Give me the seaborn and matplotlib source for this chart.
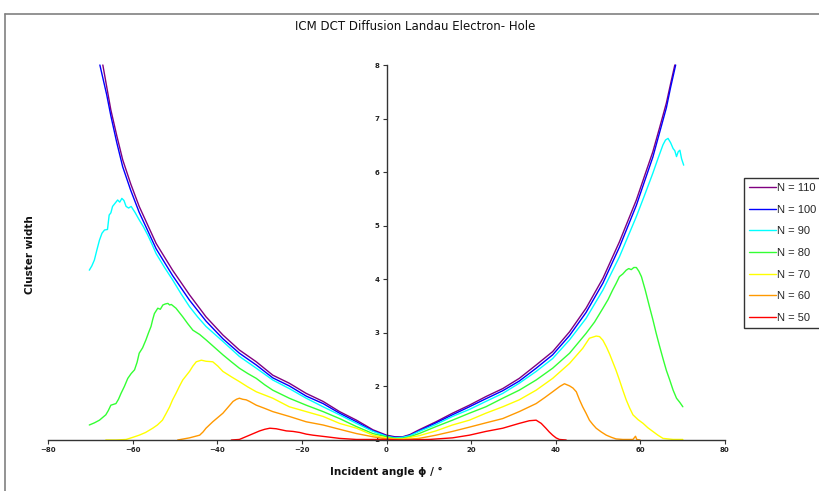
import numpy as np
import pandas as pd
import matplotlib
matplotlib.use("Agg")
import matplotlib.pyplot as plt
import seaborn as sns
from matplotlib.lines import Line2D

# ---------------- data ----------------
labels = ["N = 110", "N = 100", "N = 90", "N = 80", "N = 70", "N = 60", "N = 50"]
colors = ["#800080", "#0000FF", "#00FFFF", "#33FF33", "#FFFF00", "#FF9900", "#FF0000"]

ang_110 = [-67.1, -66.2, -65.2, -63.8, -62.4, -60.5, -58.5, -54.5, -50.6, -46.6, -42.7, -38.7, -34.8, -30.8,
           -26.9, -23.0, -19.0, -15.0, -11.1, -7.1, -3.2, 0, 2, 3.8, 5.5, 7.7, 11.7, 15.6, 19.6, 23.5, 27.5,
           31.4, 35.4, 39.3, 43.3, 47.2, 51.2, 55.1, 59.1, 61.0, 63.0, 64.6, 66.2, 67.2, 68.2]
val_110 = [8.0, 7.6, 7.16, 6.68, 6.23, 5.78, 5.36, 4.67, 4.17, 3.71, 3.30, 2.96, 2.68, 2.46,
           2.21, 2.06, 1.87, 1.72, 1.53, 1.37, 1.19, 1.09, 1.06, 1.06, 1.10, 1.19, 1.34, 1.50, 1.65, 1.81, 1.96,
           2.15, 2.40, 2.65, 3.02, 3.46, 4.02, 4.70, 5.48, 5.92, 6.38, 6.83, 7.29, 7.65, 8.0]

ang_100 = [-67.8, -66.2, -65.2, -63.8, -62.4, -60.5, -58.5, -54.5, -50.6, -46.6, -42.7, -38.7, -34.8, -30.8,
           -26.9, -23.0, -19.0, -15.0, -11.1, -7.1, -3.2, 0, 2, 3.8, 5.5, 7.7, 11.7, 15.6, 19.6, 23.5, 27.5,
           31.4, 35.4, 39.3, 43.3, 47.2, 51.2, 55.1, 59.1, 61.0, 63.0, 64.6, 66.2, 67.2, 68.4]
val_100 = [8.0, 7.45, 7.05, 6.55, 6.10, 5.66, 5.25, 4.57, 4.07, 3.61, 3.22, 2.89, 2.62, 2.40,
           2.16, 2.01, 1.82, 1.68, 1.50, 1.34, 1.17, 1.08, 1.05, 1.05, 1.09, 1.17, 1.32, 1.47, 1.62, 1.77, 1.92,
           2.10, 2.34, 2.59, 2.95, 3.38, 3.93, 4.60, 5.38, 5.82, 6.28, 6.74, 7.20, 7.58, 8.0]

ang_90 = [-70.3, -69.7, -69.1, -68.5, -67.9, -67.3, -66.7, -66.0, -65.6, -65.2, -64.8, -64.2, -63.6, -63.1,
          -62.6, -62.1, -61.6, -61.0, -60.4, -59.5, -58.5, -57.5, -56.5, -55.5, -54.5, -52.5, -50.6, -48.6,
          -46.6, -44.7, -42.7, -38.7, -34.8, -30.8, -26.9, -23.0, -19.0, -15.0, -11.1, -7.1, -3.2, 0, 2, 3.8,
          5.5, 7.7, 11.7, 15.6, 19.6, 23.5, 27.5, 31.4, 35.4, 39.3, 43.3, 47.2, 51.2, 55.1, 59.1, 61.0, 63.0,
          64.2, 65.4, 66.0, 66.6, 67.2, 67.8, 68.2, 68.6, 69.0, 69.4, 69.8, 70.3]
val_90 = [4.17, 4.25, 4.36, 4.55, 4.73, 4.86, 4.92, 4.93, 5.20, 5.24, 5.36, 5.42, 5.48, 5.44,
          5.51, 5.47, 5.36, 5.33, 5.36, 5.25, 5.11, 4.98, 4.83, 4.66, 4.48, 4.22, 3.99, 3.73,
          3.49, 3.30, 3.12, 2.84, 2.56, 2.34, 2.12, 1.96, 1.78, 1.62, 1.47, 1.31, 1.16, 1.07, 1.04, 1.05,
          1.08, 1.16, 1.29, 1.44, 1.57, 1.72, 1.87, 2.06, 2.28, 2.52, 2.87, 3.27, 3.80, 4.42, 5.17, 5.56, 5.98,
          6.25, 6.51, 6.60, 6.63, 6.55, 6.44, 6.40, 6.29, 6.38, 6.41, 6.25, 6.13]

ang_80 = [-70.3, -69.1, -67.9, -66.4, -65.8, -65.2, -64.0, -63.4, -62.8, -62.0, -61.2, -60.4, -59.6, -59.0,
          -58.5, -57.7, -56.9, -56.3, -55.7, -55.3, -54.9, -54.1, -53.5, -52.9, -52.3, -51.7, -51.3, -50.9,
          -49.8, -49.0, -48.2, -47.0, -45.8, -44.2, -42.7, -40.7, -38.7, -36.7, -34.8, -32.8, -30.8, -28.8,
          -26.9, -23.0, -19.0, -15.0, -11.1, -7.1, -3.2, 0, 2, 3.8, 5.5, 7.7, 11.7, 15.6, 19.6, 23.5, 27.5,
          31.4, 35.4, 39.3, 43.3, 47.2, 49.2, 51.2, 52.4, 53.5, 54.3, 55.1, 55.9, 56.7, 57.3, 57.9, 58.5,
          59.1, 59.7, 60.3, 61.2, 62.2, 63.0, 63.8, 64.6, 65.4, 66.2, 67.0, 67.8, 68.6, 69.4, 70.1]
val_80 = [1.28, 1.32, 1.37, 1.47, 1.55, 1.65, 1.68, 1.76, 1.87, 2.0, 2.15, 2.24, 2.31, 2.45,
          2.62, 2.72, 2.87, 3.0, 3.12, 3.25, 3.36, 3.46, 3.44, 3.52, 3.54, 3.55, 3.52, 3.53,
          3.46, 3.38, 3.30, 3.17, 3.05, 2.97, 2.87, 2.73, 2.59, 2.46, 2.34, 2.24, 2.15, 2.03,
          1.93, 1.78, 1.65, 1.53, 1.40, 1.25, 1.12, 1.06, 1.03, 1.03, 1.06, 1.12, 1.25, 1.37, 1.50, 1.62, 1.78,
          1.93, 2.12, 2.34, 2.62, 2.99, 3.20, 3.46, 3.62, 3.80, 3.92, 4.05, 4.10, 4.17, 4.20, 4.18, 4.22,
          4.22, 4.15, 4.05, 3.80, 3.49, 3.25, 2.99, 2.75, 2.52, 2.30, 2.12, 1.93, 1.78, 1.70, 1.62]

ang_70 = [-66.4, -64.0, -61.6, -60.0, -58.5, -57.0, -55.3, -54.2, -53.0, -52.1, -51.3, -50.6, -49.8, -49.0,
          -48.2, -47.4, -46.6, -45.8, -45.0, -43.8, -42.7, -41.1, -39.9, -38.7, -36.7, -34.8, -32.8, -30.8,
          -26.9, -23.0, -19.0, -15.0, -11.1, -7.1, -3.2, 0, 2, 3.8, 7.7, 11.7, 15.6, 19.6, 23.5, 27.5, 31.4,
          35.4, 39.3, 43.3, 46.4, 48.0, 49.6, 50.4, 51.2, 52.0, 52.8, 53.5, 54.3, 55.1, 55.9, 56.7, 57.5,
          58.3, 59.5, 60.7, 61.8, 63.0, 64.2, 65.4, 67.8, 70.1]
val_70 = [1.0, 1.0, 1.01, 1.05, 1.09, 1.14, 1.22, 1.28, 1.37, 1.50, 1.62, 1.75, 1.87, 2.0,
          2.12, 2.20, 2.28, 2.38, 2.46, 2.49, 2.47, 2.46, 2.38, 2.28, 2.18, 2.09, 1.99, 1.90,
          1.78, 1.62, 1.53, 1.44, 1.31, 1.22, 1.09, 1.04, 1.02, 1.02, 1.08, 1.17, 1.28, 1.37, 1.50, 1.62, 1.75,
          1.93, 2.15, 2.43, 2.71, 2.90, 2.94, 2.93, 2.86, 2.74, 2.60, 2.46, 2.30, 2.12, 1.93, 1.75, 1.60,
          1.47, 1.38, 1.31, 1.23, 1.16, 1.09, 1.03, 1.01, 1.01]

ang_60 = [-49.4, -48.0, -46.6, -44.2, -43.4, -42.7, -41.1, -39.9, -38.7, -37.5, -36.3, -35.5, -34.8, -34.0,
          -33.2, -32.4, -30.8, -28.8, -26.9, -23.0, -19.0, -15.0, -11.1, -7.1, -3.2, 0, 3.8, 7.7, 11.7, 15.6,
          19.6, 23.5, 27.5, 31.4, 35.4, 37.4, 39.3, 41.0, 42.1, 43.3, 44.1, 44.9, 45.6, 46.4, 47.2, 48.0,
          48.8, 49.6, 50.8, 52.0, 53.2, 54.3, 55.9, 58.3, 58.9, 59.2, 60.0]
val_60 = [1.0, 1.02, 1.04, 1.09, 1.15, 1.22, 1.34, 1.42, 1.50, 1.61, 1.72, 1.76, 1.78, 1.76,
          1.75, 1.72, 1.65, 1.59, 1.53, 1.44, 1.34, 1.28, 1.20, 1.12, 1.06, 1.02, 1.01, 1.03, 1.09, 1.16,
          1.24, 1.32, 1.40, 1.53, 1.68, 1.79, 1.90, 2.00, 2.05, 2.01, 1.97, 1.90, 1.76, 1.62, 1.50, 1.37,
          1.29, 1.22, 1.15, 1.09, 1.05, 1.02, 1.01, 1.01, 1.07, 1.01, 1.0]

ang_50 = [-36.7, -34.8, -33.6, -32.4, -31.2, -30.0, -28.8, -27.6, -26.1, -24.9, -23.7, -22.1, -20.5, -19.0,
          -17.4, -14.2, -11.1, -7.1, -3.2, 0, 3.8, 10.1, 15.6, 19.6, 23.5, 27.5, 31.4, 33.8, 35.4, 36.6,
          37.7, 38.5, 39.3, 40.1, 40.9, 42.5]
val_50 = [1.0, 1.01, 1.05, 1.09, 1.13, 1.17, 1.20, 1.22, 1.21, 1.19, 1.17, 1.16, 1.14, 1.11,
          1.09, 1.06, 1.03, 1.01, 1.01, 1.01, 1.0, 1.01, 1.04, 1.09, 1.16, 1.22, 1.31, 1.36, 1.37, 1.31,
          1.22, 1.15, 1.09, 1.04, 1.01, 1.0]

x_ticks = [-80, -60, -40, -20, 0, 20, 40, 60, 80]
y_ticks = [1, 2, 3, 4, 5, 6, 7, 8]

series = [(labels[0], ang_110, val_110), (labels[1], ang_100, val_100), (labels[2], ang_90, val_90),
          (labels[3], ang_80, val_80), (labels[4], ang_70, val_70), (labels[5], ang_60, val_60),
          (labels[6], ang_50, val_50)]
frames = []
for lab, a, v in series:
    frames.append(pd.DataFrame({"angle": a, "width": v, "N": lab}))
df = pd.concat(frames, ignore_index=True)

# ---------------- figure ----------------
sns.set_theme(style="white")
plt.rcParams["font.family"] = ["DejaVu Sans"]

fig = plt.figure(figsize=(8.19, 4.91), dpi=100)
W, H = 819, 491
ax = fig.add_axes([48.3 / W, 1 - 440 / H, (724.7 - 48.3) / W, (440 - 65) / H])

sns.lineplot(data=df, x="angle", y="width", hue="N", hue_order=labels,
             palette=dict(zip(labels, colors)), estimator=None, sort=False,
             linewidth=1.0, ax=ax, legend=False)

for s in ["top", "right"]:
    ax.spines[s].set_visible(False)
ax.spines["left"].set_position(("data", 0))
for s in ["left", "bottom"]:
    ax.spines[s].set_color("#333333")
    ax.spines[s].set_linewidth(1.0)

ax.set_xlim(-80, 80)
ax.set_ylim(1, 8)
ax.set_xticks(x_ticks)
ax.set_yticks(y_ticks)
ax.set_xlabel("")
ax.set_ylabel("")
ax.tick_params(axis="both", which="both", direction="out", length=3, width=0.8,
               color="#333333", labelcolor="#222222", pad=2, labelsize=5)
ax.tick_params(axis="x", bottom=True)
ax.tick_params(axis="y", left=True)
for lbl in ax.get_xticklabels() + ax.get_yticklabels():
    lbl.set_fontweight("bold")
ax.patch.set_alpha(0)
for line in ax.lines:
    line.set_clip_on(False)

# texts
fig.text(415 / W, 1 - 27 / H, "ICM DCT Diffusion Landau Electron- Hole",
         ha="center", va="center", fontsize=8.5, color="#111111")
fig.text(386 / W, 1 - 472 / H, "Incident angle \u03d5 / \u00b0",
         ha="center", va="center", fontsize=7.5, fontweight="bold", color="#111111")
fig.text(30 / W, 1 - 255 / H, "Cluster width", rotation=90,
         ha="center", va="center", fontsize=7.5, fontweight="bold", color="#111111")

# legend
handles = [Line2D([0], [0], color=c, lw=1.0) for c in colors]
leg = fig.legend(handles, labels, loc="upper left",
                 bbox_to_anchor=(744 / W, 1 - 178 / H), bbox_transform=fig.transFigure,
                 prop={"family": ["Liberation Sans", "DejaVu Sans"], "size": 8},
                 frameon=True, fancybox=False, handlelength=2.4,
                 handletextpad=0.15, labelspacing=1.05, borderpad=0.45, borderaxespad=0)
leg.get_frame().set_edgecolor("#000000")
leg.get_frame().set_linewidth(1.0)

# outer chart-area frame (gray)
fig.add_artist(Line2D([5 / W, 1.0], [1 - 14 / H, 1 - 14 / H], color="#808080", lw=1.2,
                      transform=fig.transFigure))
fig.add_artist(Line2D([5 / W, 5 / W], [1 - 14 / H, 0], color="#808080", lw=1.2,
                      transform=fig.transFigure))

fig.savefig("out.png", dpi=100)
